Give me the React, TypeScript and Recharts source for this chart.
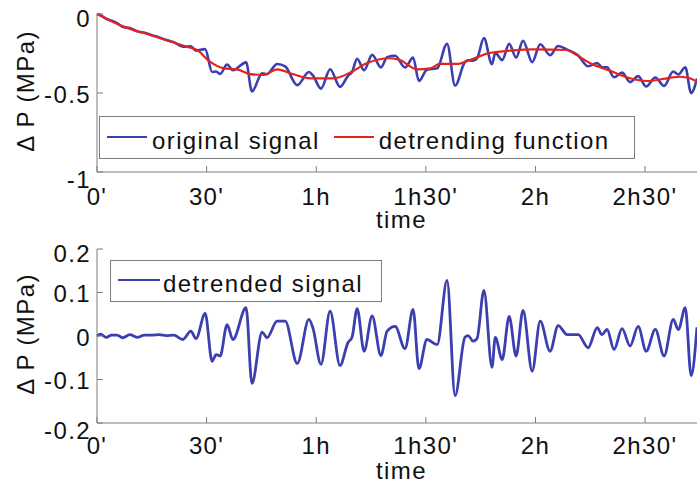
import React from "react";
import { LineChart, Line, XAxis, YAxis, Legend } from "recharts";

// time axis (minutes), the run is 10000 s long
const xMax = 166.67;
const xTicks = [0, 30, 60, 90, 120, 150];
const xTickLabels = ["0'", "30'", "1h", "1h30'", "2h", "2h30'"];

const topYTicks = [-1, -0.5, 0];
const topYTickLabels = ["-1", "-0.5", "0"];
const bottomYTicks = [-0.2, -0.1, 0, 0.1, 0.2];
const bottomYTickLabels = ["-0.2", "-0.1", "0", "0.1", "0.2"];

const topSeriesNames = ["original signal", "detrending function"];
const bottomSeriesNames = ["detrended signal"];

// sample times (min) for the original and the detrended signal
const sampleTime = [
  0, 1, 2.5, 4, 5.5, 7, 9, 11, 13, 15,
  17, 19, 21, 23.5, 25.7, 27.1, 29.6, 31.5, 32.6, 33.7,
  35.6, 37.2, 40.8, 42.4, 45.2, 46.5, 49.3, 51.5, 54.8, 58.0,
  59.1, 61.3, 63.8, 66.5, 68.7, 69.8, 71.2, 73.1, 75.3, 77.7,
  79.4, 81.6, 84.3, 86.5, 88.1, 90.3, 93.1, 95.8, 98.0, 100.7,
  101.6, 102.9, 104.0, 105.9, 108.1, 109.0, 110.9, 112.8, 114.7, 116.6,
  119.1, 121.3, 124.0, 126.2, 128.7, 131.7, 134.4, 136.9, 138.2, 139.6,
  141.5, 143.7, 145.9, 148.1, 150.3, 152.8, 155.2, 157.7, 159.1, 161.0,
  162.6, 164.2,
];

// ΔP (MPa), top panel, blue
const originalValue = [
  0, -0.007, -0.03, -0.042, -0.058, -0.081, -0.089, -0.11, -0.119, -0.134,
  -0.148, -0.165, -0.178, -0.207, -0.204, -0.232, -0.222, -0.367, -0.364, -0.379,
  -0.32, -0.356, -0.306, -0.49, -0.376, -0.381, -0.316, -0.332, -0.45, -0.367,
  -0.389, -0.472, -0.35, -0.461, -0.391, -0.367, -0.283, -0.356, -0.259, -0.338,
  -0.273, -0.264, -0.338, -0.276, -0.424, -0.353, -0.344, -0.188, -0.453, -0.304,
  -0.293, -0.296, -0.281, -0.153, -0.318, -0.246, -0.292, -0.188, -0.276, -0.169,
  -0.305, -0.191, -0.261, -0.203, -0.226, -0.263, -0.331, -0.31, -0.337, -0.337,
  -0.4, -0.371, -0.43, -0.393, -0.459, -0.402, -0.455, -0.364, -0.383, -0.337,
  -0.501, -0.408,
];

// ΔP (MPa), bottom panel
const detrendedValue = [
  0, 0.004, -0.003, 0.002, 0.002, -0.004, 0.003, -0.003, 0.002, 0.002,
  0.003, 0.001, 0.002, -0.008, 0.011, -0.006, 0.052, -0.058, -0.043, -0.046,
  0.026, -0.008, 0.065, -0.109, 0.009, -0.004, 0.034, 0.034, -0.063, 0.038,
  0.018, -0.065, 0.057, -0.068, -0.015, -0.003, 0.063, -0.035, 0.046, -0.045,
  0.011, 0.022, -0.029, 0.061, -0.075, -0.008, -0.02, 0.128, -0.137, -0.003,
  0.001, -0.012, -0.006, 0.105, -0.072, -0.003, -0.054, 0.045, -0.046, 0.059,
  -0.081, 0.034, -0.035, 0.024, 0.003, 0.003, -0.027, 0.019, 0.003, 0.015,
  -0.031, 0.017, -0.023, 0.022, -0.035, 0.015, -0.046, 0.038, 0.015, 0.065,
  -0.091, 0.02,
];

// detrending function, red
const trendTime = [
  0, 7.3, 14.6, 24.6, 27.4, 30.9, 34.7, 38.3, 41.9, 45.6,
  49.3, 53.5, 58.3, 64.7, 69.3, 73.8, 80.2, 82.9, 87.5, 91.2,
  93.9, 98.5, 102.1, 107, 113.1, 119.4, 128.6, 131.3, 135, 140.4,
  145.9, 150.5, 155.9, 159.6, 162.3, 164.2,
];
const trendValue = [
  0, -0.08, -0.133, -0.207, -0.228, -0.302, -0.344, -0.35, -0.38, -0.386,
  -0.35, -0.38, -0.407, -0.407, -0.371, -0.312, -0.28, -0.291, -0.35, -0.344,
  -0.316, -0.316, -0.291, -0.249, -0.232, -0.224, -0.228, -0.26, -0.312, -0.359,
  -0.407, -0.424, -0.407, -0.397, -0.407, -0.428,
];

const originalData = sampleTime.map((t, i) => ({ t, v: originalValue[i] }));
const detrendedData = sampleTime.map((t, i) => ({ t, v: detrendedValue[i] }));
const trendData = trendTime.map((t, i) => ({ t, v: trendValue[i] }));

const blue = "#3b3fb0";
const red = "#e4241b";
const axisColor = "#7d7d7d";
const textColor = "#111";

const xTick = (props: any) => {
  const { x, y, payload } = props;
  const i = xTicks.indexOf(payload.value);
  return (
    <text x={x} y={y} dy="0.71em" textAnchor="middle" fill={textColor}>
      {xTickLabels[i]}
    </text>
  );
};

const makeYTick = (ticks: number[], labels: string[]) => (props: any) => {
  const { x, y, payload } = props;
  const i = ticks.indexOf(payload.value);
  let shift = 1;
  if (i === ticks.length - 1) shift = 4;
  if (i === 0) shift = 7;
  return (
    <text x={x} y={y + shift} textAnchor="end" dominantBaseline="central" fill={textColor}>
      {labels[i]}
    </text>
  );
};

const timeLabel = (props: any) => {
  const vb = props.viewBox;
  return (
    <text x={vb.x + vb.width / 2} y={vb.y + 56} textAnchor="middle" fill={textColor}>
      time
    </text>
  );
};

const pressureLabel = (props: any) => {
  const vb = props.viewBox;
  const cx = 25;
  const cy = vb.y + vb.height / 2 - 2;
  return (
    <text
      x={cx}
      y={cy}
      transform={`rotate(-90 ${cx} ${cy})`}
      textAnchor="middle"
      dominantBaseline="central"
      fill={textColor}
    >
      Δ P (MPa)
    </text>
  );
};

function LegendBox(props: any) {
  const { payload, order, width, height, sampleWidth, gap } = props;
  const items = [...(payload || [])].sort(
    (a: any, b: any) => order.indexOf(a.value) - order.indexOf(b.value)
  );
  return (
    <div
      style={{
        boxSizing: "border-box",
        width,
        height,
        border: `1px solid ${axisColor}`,
        background: "#fff",
        display: "flex",
        alignItems: "center",
        paddingLeft: 7,
      }}
    >
      {items.map((entry: any, i: number) => (
        <div key={i} style={{ display: "flex", alignItems: "center", marginRight: 14 }}>
          <svg width={sampleWidth} height={6} style={{ position: "relative", top: -1 }}>
            <line x1={0} y1={3} x2={sampleWidth} y2={3} stroke={entry.color} strokeWidth={2} />
          </svg>
          <span
            style={{
              marginLeft: gap,
              position: "relative",
              top: 3,
              color: textColor,
              lineHeight: "normal",
              whiteSpace: "nowrap",
            }}
          >
            {entry.value}
          </span>
        </div>
      ))}
    </div>
  );
}

export default function App() {
  return (
    <div
      style={{
        position: "absolute",
        left: 0,
        top: 0,
        width: 697,
        height: 485,
        overflow: "hidden",
        background: "#fff",
        fontFamily: "'Liberation Sans', Arial, sans-serif",
        fontSize: 24,
        letterSpacing: "1.4px",
      }}
    >
      <div style={{ position: "absolute", left: 0, top: 0 }}>
        <LineChart width={710} height={240} margin={{ top: 14, right: 4, bottom: 0, left: 0 }}>
          <XAxis
            type="number"
            dataKey="t"
            domain={[0, xMax]}
            ticks={xTicks}
            interval={0}
            height={68}
            tickSize={-6}
            tickMargin={22}
            tick={xTick}
            stroke={axisColor}
            label={timeLabel}
          />
          <XAxis
            xAxisId="top"
            orientation="top"
            type="number"
            dataKey="t"
            domain={[0, xMax]}
            ticks={xTicks}
            interval={0}
            height={0}
            tickSize={-6}
            tick={false}
            stroke={axisColor}
          />
          <YAxis
            type="number"
            domain={[-1, 0]}
            ticks={topYTicks}
            interval={0}
            width={97}
            tickSize={-6}
            tickMargin={12}
            tick={makeYTick(topYTicks, topYTickLabels)}
            stroke={axisColor}
            label={pressureLabel}
          />
          <Legend
            verticalAlign="middle"
            align="center"
            wrapperStyle={{ left: 99, top: 116 }}
            content={(p: any) => (
              <LegendBox {...p} order={topSeriesNames} width={536} height={43} sampleWidth={40} gap={5} />
            )}
          />
          <Line
            data={originalData}
            dataKey="v"
            name={topSeriesNames[0]}
            type="monotone"
            stroke={blue}
            strokeWidth={2.6}
            dot={false}
            activeDot={false}
            isAnimationActive={false}
          />
          <Line
            data={trendData}
            dataKey="v"
            name={topSeriesNames[1]}
            type="monotone"
            stroke={red}
            strokeWidth={2.2}
            dot={false}
            activeDot={false}
            isAnimationActive={false}
          />
        </LineChart>
      </div>
      <div style={{ position: "absolute", left: 0, top: 240 }}>
        <LineChart width={710} height={245} margin={{ top: 9, right: 4, bottom: 0, left: 0 }}>
          <XAxis
            type="number"
            dataKey="t"
            domain={[0, xMax]}
            ticks={xTicks}
            interval={0}
            height={62}
            tickSize={-6}
            tickMargin={20}
            tick={xTick}
            stroke={axisColor}
            label={timeLabel}
          />
          <XAxis
            xAxisId="top"
            orientation="top"
            type="number"
            dataKey="t"
            domain={[0, xMax]}
            ticks={xTicks}
            interval={0}
            height={0}
            tickSize={-6}
            tick={false}
            stroke={axisColor}
          />
          <YAxis
            type="number"
            domain={[-0.2, 0.2]}
            ticks={bottomYTicks}
            interval={0}
            width={97}
            tickSize={-6}
            tickMargin={12}
            tick={makeYTick(bottomYTicks, bottomYTickLabels)}
            stroke={axisColor}
            label={pressureLabel}
          />
          <Legend
            verticalAlign="middle"
            align="center"
            wrapperStyle={{ left: 110, top: 20 }}
            content={(p: any) => (
              <LegendBox {...p} order={bottomSeriesNames} width={272} height={42} sampleWidth={42} gap={3} />
            )}
          />
          <Line
            data={detrendedData}
            dataKey="v"
            name={bottomSeriesNames[0]}
            type="monotone"
            stroke={blue}
            strokeWidth={2.8}
            dot={false}
            activeDot={false}
            isAnimationActive={false}
          />
        </LineChart>
      </div>
    </div>
  );
}
